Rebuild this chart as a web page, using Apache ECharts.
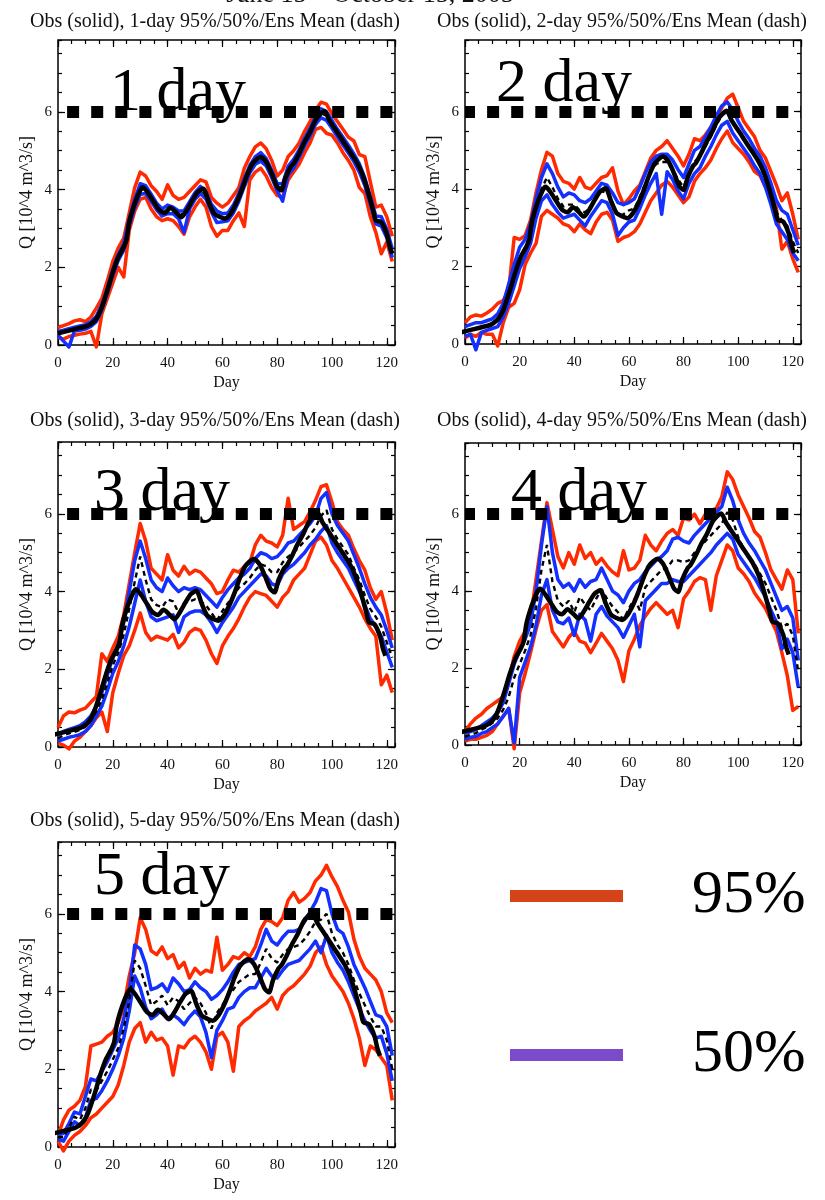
<!DOCTYPE html>
<html>
<head>
<meta charset="utf-8">
<script src="https://cdn.jsdelivr.net/npm/echarts@6/dist/echarts.min.js"></script>
<style>
  html, body { margin: 0; padding: 0; background: #fff; }
  #chart { width: 825px; height: 1200px; }
</style>
</head>
<body>
<div id="chart"></div>
<script>
// ---- Data: discharge Q [10^4 m^3/s], forecast day index ----
const periodTitle = 'June 15 – October 15, 2005';
const leadDays = [1, 2, 3, 4, 5];
const threshold = 6;

// forecast sampling days
const days = [0,2,4,6,8,10,12,14,16,18,20,22,24,26,28,30,32,34,36,38,40,42,44,46,48,50,52,54,56,58,
  60,62,64,66,68,70,72,74,76,78,80,82,84,86,88,90,92,94,96,98,100,102,104,106,108,110,112,114,116,118,120,122];

// observed discharge
const obsDay = [0,4,8,11,13,14,15,16,18,20,22,24,25,26,28,30,31,33,35,37,39,41,43,45,47,49,51,53,55,57,
  59,61,63,65,67,69,71,74,76,78,80,81.5,83,85,86,88,90,92,94,96,97.3,99,101,103,105,107,109,111,113,115,
  116,118,120,121,122];
const obsFlow = [0.30,0.37,0.44,0.50,0.60,0.68,0.80,0.97,1.40,1.87,2.26,2.52,2.70,3.16,3.64,3.98,4.06,3.90,3.68,3.47,
  3.40,3.53,3.42,3.29,3.47,3.72,3.94,4.02,3.68,3.38,3.30,3.25,3.38,3.64,3.98,4.37,4.67,4.84,4.71,4.41,
  4.07,3.98,4.30,4.60,4.67,4.93,5.23,5.48,5.79,5.96,6.02,5.79,5.57,5.36,5.14,4.93,4.71,4.41,3.98,3.47,
  3.21,3.16,2.86,2.56,2.35];
// offset (days) of the observed record on each lead-time panel
const obsLag = [0, 1.5, 2.5, 3.5, 4.5];

// 1-day lead
const hi95_1 = [.45,.50,.55,.62,.65,.60,.72,.95,1.20,1.65, 2.15,2.50,2.75,3.40,4.05,4.45,4.35,4.10,3.95,3.75,
  4.12,3.85,3.75,3.80,3.95,4.10,4.25,4.20,3.80,3.65, 3.55,3.65,3.85,4.05,4.55,4.85,5.10,5.20,5.05,4.75,
  4.35,4.50,4.85,5.00,5.20,5.50,5.75,6.05,6.25,6.20, 5.95,5.75,5.55,5.35,5.25,4.90,4.85,4.20,3.55,3.60, 3.30,2.80];
const lo95_1 = [.20,.15,.22,.25,.28,.30,.35,-.05,.80,1.20, 1.60,2.00,1.75,2.95,3.45,3.75,3.80,3.50,3.30,3.20,
  3.25,3.20,3.05,2.85,3.30,3.55,3.75,3.55,3.05,2.80, 2.95,2.95,3.20,3.40,3.05,4.25,4.45,4.55,4.35,4.05,
  3.85,3.80,4.25,4.45,4.65,4.95,5.20,5.55,5.60,5.45, 5.40,5.20,4.95,4.75,4.50,4.05,3.90,3.30,2.90,2.35, 2.65,2.15];
const hi50_1 = [.35,.38,.42,.46,.49,.52,.60,.74,1.04,1.46, 1.95,2.33,2.60,3.25,3.75,4.15,4.10,3.88,3.65,3.50,
  3.60,3.55,3.45,3.45,3.68,3.92,4.08,3.95,3.62,3.45, 3.38,3.40,3.60,3.90,4.28,4.62,4.85,4.95,4.80,4.50,
  4.15,4.15,4.60,4.78,5.02,5.32,5.58,5.88,6.08,6.00, 5.78,5.55,5.35,5.14,4.92,4.66,4.30,3.82,3.32,3.30, 2.98,2.48];
const lo50_1 = [.25,.10,-.05,.36,.38,.41,.48,.60,.90,1.33, 1.80,2.18,2.44,3.06,3.54,3.88,3.90,3.70,3.48,3.32,
  3.38,3.38,3.25,2.90,3.50,3.75,3.90,3.76,3.42,3.15, 3.17,3.20,3.40,3.70,4.08,4.43,4.65,4.73,4.61,4.31,
  3.97,3.70,4.38,4.55,4.83,5.13,5.38,5.68,5.85,5.78, 5.58,5.36,5.15,4.94,4.72,4.45,4.10,3.62,3.12,3.06, 2.76,2.25];
const mean_1 = [.30,.33,.37,.41,.44,.47,.54,.68,.97,1.40, 1.87,2.26,2.52,3.16,3.64,4.02,4.00,3.79,3.57,3.41,
  3.48,3.47,3.36,3.37,3.60,3.84,4.00,3.86,3.52,3.33, 3.27,3.30,3.50,3.80,4.18,4.53,4.75,4.80,4.71,4.41,
  4.07,4.05,4.50,4.67,4.93,5.23,5.48,5.79,5.96,5.90, 5.68,5.46,5.25,5.04,4.82,4.56,4.20,3.72,3.21,3.16, 2.86,2.35];

// 2-day lead
const hi95_2 = [.55,.70,.75,.72,.80,.90,1.05,1.12,1.40,2.75, 2.70,2.80,3.20,3.90,4.50,4.95,4.85,4.40,4.20,4.15,
  4.00,4.30,4.05,4.00,4.15,4.30,4.35,4.55,3.95,3.60, 3.75,3.95,4.10,4.45,4.80,5.00,5.10,5.25,5.05,4.85,
  4.60,4.90,5.30,5.25,5.40,5.60,5.85,6.10,6.35,6.45, 6.10,5.75,5.55,5.35,5.00,4.80,4.45,4.10,3.70,3.90, 3.35,2.70];
const lo95_2 = [.15,.25,.20,.30,.25,.25,-.05,.55,.95,1.05, 1.40,2.05,2.35,2.60,3.30,3.45,3.35,3.25,3.10,3.05,
  2.90,3.10,2.95,2.85,3.15,3.35,3.40,3.20,2.65,2.75, 2.80,2.90,3.10,3.40,3.70,3.90,4.10,4.20,4.05,3.85,
  3.65,3.80,4.20,4.40,4.55,4.75,5.05,5.30,5.50,5.20, 5.05,4.90,4.70,4.45,4.35,4.05,3.85,3.50,2.45,2.65, 2.20,1.85];
const hi50_2 = [.45,.50,.55,.55,.60,.65,.78,1.05,1.55,2.05, 2.50,2.70,3.10,3.75,4.30,4.65,4.40,4.05,3.80,3.90,
  3.85,3.70,3.65,3.75,3.95,4.15,4.10,3.90,3.65,3.60, 3.65,3.75,4.05,4.40,4.70,4.85,4.90,4.90,4.75,4.50,
  4.30,4.65,5.00,5.10,5.35,5.60,5.90,6.15,6.25,6.05, 5.75,5.50,5.30,5.05,4.85,4.55,4.15,3.70,3.45,3.35, 2.95,2.55];
const lo50_2 = [.20,.25,-.15,.30,.35,.40,.45,.70,1.05,1.50, 1.95,2.25,2.60,3.25,3.70,3.85,3.60,3.40,3.25,3.30,
  3.35,3.20,3.05,3.30,3.50,3.70,3.65,3.35,2.80,3.00, 3.15,3.20,3.50,3.85,4.15,4.40,3.35,4.45,4.25,3.95,
  3.75,4.15,4.40,4.55,4.85,5.10,5.40,5.65,5.75,5.45, 5.25,5.05,4.85,4.60,4.40,4.05,3.60,3.10,2.90,2.70, 2.35,2.15];
const mean_2 = [.32,.37,.40,.43,.47,.52,.62,.88,1.30,1.78, 2.22,2.48,2.85,3.50,4.00,4.30,4.05,3.75,3.55,3.60,
  3.60,3.45,3.40,3.55,3.75,3.95,3.90,3.65,3.30,3.35, 3.45,3.50,3.80,4.15,4.45,4.65,4.70,4.70,4.50,4.25,
  4.05,4.45,4.70,4.85,5.10,5.35,5.65,5.90,6.00,5.75, 5.50,5.28,5.08,4.85,4.62,4.30,3.90,3.40,3.20,3.05, 2.65,2.35];

// 3-day lead
const hi95_3 = [.50,.80,.90,.88,.95,1.00,1.15,1.30,2.40,2.20, 2.55,2.85,3.40,4.20,5.00,5.75,5.30,4.60,4.45,4.30,
  4.95,4.55,4.40,4.65,4.45,4.55,4.50,4.35,4.20,3.95, 4.00,4.30,4.55,4.50,4.65,4.75,5.20,5.45,5.30,5.25,
  5.15,5.45,6.40,5.60,5.70,5.80,6.05,6.35,6.70,6.75, 6.30,5.80,5.60,5.45,5.10,4.80,4.55,4.10,3.80,4.00, 3.45,2.75];
const lo95_3 = [.10,.05,-.05,.15,.25,.40,.55,.75,.90,.40, 1.40,1.90,2.35,2.60,3.00,3.45,2.95,2.75,2.85,2.80,
  2.75,2.90,2.55,2.70,2.95,3.05,3.00,2.75,2.40,2.15, 2.60,2.85,3.05,3.30,3.60,3.85,4.00,3.95,3.90,3.75,
  3.60,3.85,4.00,4.30,4.45,4.60,4.95,5.30,5.40,5.20, 4.80,4.60,4.35,4.10,3.85,3.60,3.30,3.05,2.85,1.60, 1.85,1.40];
const hi50_3 = [.30,.40,.45,.50,.55,.65,.80,1.05,1.40,1.85, 2.30,2.65,3.20,4.00,4.80,5.30,4.85,4.30,4.10,4.00,
  4.35,4.15,4.00,4.10,4.05,4.10,4.05,3.90,3.75,3.60, 3.85,4.05,4.20,4.35,4.45,4.60,4.85,5.00,4.95,4.85,
  4.90,5.05,5.25,5.30,5.45,5.60,5.75,5.95,6.40,6.55, 6.00,5.70,5.50,5.30,4.95,4.60,4.20,3.85,3.60,3.40, 3.00,2.55];
const lo50_3 = [.15,.20,.25,.28,.32,.40,.55,.80,1.05,1.45, 1.90,2.20,2.60,3.10,3.70,4.30,3.75,3.35,3.25,3.30,
  3.35,3.40,2.95,3.35,3.45,3.50,3.50,3.40,3.20,2.95, 3.20,3.40,3.60,3.85,4.00,4.15,4.30,4.45,4.40,4.20,
  4.15,4.45,4.60,4.70,4.85,5.00,5.20,5.35,5.55,5.70, 5.25,5.00,4.80,4.60,4.30,4.00,3.65,3.30,3.10,2.85, 2.45,2.05];
const mean_3 = [.22,.30,.35,.39,.44,.52,.67,.92,1.22,1.65, 2.10,2.42,2.90,3.55,4.25,4.90,4.30,3.80,3.65,3.60,
  3.80,3.75,3.45,3.70,3.75,3.80,3.75,3.65,3.45,3.25, 3.50,3.70,3.90,4.10,4.20,4.35,4.55,4.70,4.65,4.50,
  4.50,4.75,4.90,5.00,5.15,5.30,5.45,5.65,5.95,6.10, 5.60,5.35,5.15,4.95,4.60,4.30,3.90,3.55,3.35,3.10, 2.70,2.30];

// 4-day lead
const hi95_4 = [.35,.55,.70,.80,.95,1.05,1.15,1.25,1.70,2.30, 2.70,2.95,3.30,4.30,5.30,6.30,5.60,4.90,4.60,5.00,
  4.70,5.20,4.85,5.00,4.70,4.85,4.65,4.50,4.40,5.05, 4.55,4.60,4.80,5.45,5.20,5.05,5.30,5.50,5.60,5.45,
  5.90,5.85,6.00,5.75,6.00,6.10,6.15,6.45,7.10,6.90, 6.50,6.20,5.90,5.55,5.40,5.00,4.55,4.30,4.05,4.55, 4.30,2.90];
const lo95_4 = [.10,.15,.15,.20,.25,.35,.55,.75,.95,-.10, 1.35,1.85,2.40,3.00,3.50,3.65,2.95,2.75,2.55,2.80,
  2.95,2.70,2.65,2.40,2.65,2.90,2.70,2.50,2.20,1.65, 2.45,2.75,3.10,3.35,3.55,3.70,3.55,3.40,3.50,3.05,
  3.80,4.00,4.25,4.35,4.30,3.50,4.40,4.80,5.20,5.05, 4.60,4.45,4.25,3.95,3.75,3.55,3.25,2.95,2.40,1.80, 0.90,1.00];
const hi50_4 = [.30,.35,.40,.50,.60,.70,.85,1.10,1.60,2.10, 2.45,2.75,3.15,4.00,5.20,6.20,5.00,4.30,4.10,4.20,
  4.00,4.30,4.10,4.25,4.30,4.60,4.30,4.00,3.90,3.70, 4.00,4.20,4.30,4.50,4.65,4.80,4.90,5.05,5.35,5.40,
  5.30,5.25,5.45,5.60,5.75,5.90,6.05,6.20,6.70,6.35, 5.85,5.50,5.25,5.05,4.80,4.55,4.20,3.85,3.50,3.60, 3.30,2.20];
const lo50_4 = [.15,.20,.22,.30,.35,.45,.55,.75,.95,.05, 1.75,2.15,2.55,3.10,3.90,4.30,3.50,3.20,3.15,3.30,
  2.85,3.40,3.25,2.70,3.40,3.60,3.35,3.20,3.05,2.80, 3.10,3.40,2.55,3.75,3.90,4.05,4.20,4.20,4.30,4.25,
  4.25,4.40,4.55,4.70,4.85,5.00,5.20,5.35,5.50,5.35, 4.95,4.75,4.55,4.35,4.10,3.85,3.50,3.20,2.50,2.75, 2.40,1.50];
const mean_4 = [.22,.27,.31,.40,.47,.57,.70,.92,1.25,1.75, 2.10,2.45,2.85,3.55,4.55,5.20,4.25,3.75,3.60,3.75,
  3.45,3.85,3.65,3.50,3.80,4.05,3.80,3.60,3.45,3.25, 3.55,3.80,3.50,4.10,4.25,4.40,4.55,4.60,4.80,4.80,
  4.75,4.80,5.00,5.15,5.30,5.45,5.60,5.75,6.05,5.85, 5.40,5.10,4.90,4.70,4.45,4.20,3.85,3.50,3.05,3.15, 2.85,1.90];

// 5-day lead
const hi95_5 = [.30,.70,.95,1.05,1.20,1.55,2.60,2.65,2.70,2.85, 2.95,3.20,3.60,4.40,5.00,5.90,5.60,5.05,4.95,5.15,
  4.85,4.95,4.60,4.75,4.35,4.60,4.45,4.55,4.50,5.40, 4.55,4.70,4.90,4.85,5.00,4.90,5.15,5.60,5.85,5.80,
  5.70,5.90,6.35,6.55,6.30,6.40,6.55,6.85,7.00,7.25, 6.95,6.70,6.35,6.05,5.35,4.90,4.60,4.45,4.30,4.00, 3.45,3.20];
const lo95_5 = [.15,-.10,.15,.30,.40,.55,.75,.85,1.00,1.15, 1.30,1.60,2.10,2.70,3.05,3.20,2.70,2.95,2.75,2.80,
  2.60,1.85,2.60,2.55,2.75,2.85,2.70,2.45,2.00,2.85, 2.95,2.70,1.95,3.10,3.25,3.35,3.50,3.60,3.70,3.85,
  3.55,3.90,4.05,4.15,4.30,4.45,4.65,5.00,5.15,4.70, 4.40,4.20,4.00,3.70,3.30,2.80,2.10,2.60,2.50,2.30, 2.10,1.20];
const hi50_5 = [.30,.35,.60,.90,.85,1.30,1.75,1.70,1.95,2.20, 2.50,2.80,3.30,4.00,5.20,5.10,4.70,4.05,4.10,4.20,
  4.00,4.35,4.20,4.00,4.05,4.25,4.10,4.00,3.80,3.90, 4.05,4.25,4.50,4.70,4.75,4.80,4.85,5.20,5.60,5.30,
  5.20,5.40,5.55,5.55,5.60,5.80,6.05,6.30,6.65,6.60, 6.00,5.60,5.50,5.15,4.70,4.40,4.10,3.75,3.40,3.35, 3.10,2.35];
const lo50_5 = [.20,.15,.40,.65,.55,.75,1.20,1.25,1.45,1.70, 2.00,2.35,2.80,3.50,4.40,4.10,3.60,3.30,3.40,3.55,
  3.30,3.40,3.30,3.15,3.35,3.50,3.35,2.95,2.30,3.00, 3.25,3.55,3.60,3.85,4.00,4.10,4.10,4.35,4.60,4.40,
  4.35,4.55,4.70,4.75,4.80,4.95,5.10,5.30,5.00,5.45, 5.00,4.75,4.55,4.25,3.90,3.55,3.25,3.00,2.80,2.85, 2.40,1.70];
const mean_5 = [.25,.25,.50,.78,.70,1.00,1.48,1.45,1.70,1.95, 2.25,2.55,3.05,3.75,4.80,4.60,4.15,3.65,3.75,3.90,
  3.65,3.85,3.75,3.55,3.70,3.85,3.70,3.45,3.05,3.45, 3.65,3.90,4.05,4.25,4.35,4.45,4.45,4.75,5.10,4.85,
  4.75,4.95,5.10,5.15,5.20,5.35,5.55,5.80,5.85,6.00, 5.50,5.20,5.00,4.70,4.30,3.95,3.65,3.35,3.10,3.10, 2.75,2.00];

const bands = [
  { hi95: hi95_1, lo95: lo95_1, hi50: hi50_1, lo50: lo50_1, mean: mean_1 },
  { hi95: hi95_2, lo95: lo95_2, hi50: hi50_2, lo50: lo50_2, mean: mean_2 },
  { hi95: hi95_3, lo95: lo95_3, hi50: hi50_3, lo50: lo50_3, mean: mean_3 },
  { hi95: hi95_4, lo95: lo95_4, hi50: hi50_4, lo50: lo50_4, mean: mean_4 },
  { hi95: hi95_5, lo95: lo95_5, hi50: hi50_5, lo50: lo50_5, mean: mean_5 }
];

// ---- Layout & styling ----
const SERIF = '"Liberation Serif", "Times New Roman", serif';
const RED = '#ff2a00', BLUE = '#1430ff', INK = '#000';
const LEGEND_RED = '#d44418', LEGEND_PURPLE = '#7b4bcc';
const X_MAX = 123, Y_MAX = 7.85;

const boxes = [
  { left: 58,  top: 40,  width: 337, height: 305, subX: 215, subY: 22,  tagX: 110, tagY: 94,  dashOff: 15 },
  { left: 465, top: 40,  width: 336, height: 304, subX: 622, subY: 22,  tagX: 496, tagY: 85,  dashOff: 2 },
  { left: 58,  top: 442, width: 337, height: 305, subX: 215, subY: 421, tagX: 94,  tagY: 494, dashOff: 15 },
  { left: 465, top: 443, width: 336, height: 302, subX: 622, subY: 421, tagX: 511, tagY: 494, dashOff: 2 },
  { left: 58,  top: 842, width: 337, height: 305, subX: 215, subY: 821, tagX: 94,  tagY: 878, dashOff: 15 }
];

const grid = [], xAxis = [], yAxis = [], series = [], graphic = [];

const tickStyle = { color: INK, width: 1.2 };
const labelStyle = { fontFamily: SERIF, fontSize: 15, color: '#111' };

boxes.forEach((b, i) => {
  grid.push({ left: b.left, top: b.top, width: b.width, height: b.height, show: true,
    borderColor: INK, borderWidth: 1.5, backgroundColor: 'transparent', containLabel: false, outerBoundsMode: 'none' });

  const base = { gridIndex: i, type: 'value', splitLine: { show: false },
    axisLine: { show: false, onZero: false } };
  // x: bottom major (labelled), bottom minor, top major, top minor
  xAxis.push(Object.assign({}, base, { min: 0, max: X_MAX, interval: 20, position: 'bottom',
    axisTick: { inside: true, length: 7, lineStyle: tickStyle },
    axisLabel: Object.assign({ showMaxLabel: false, margin: 11 }, labelStyle),
    name: 'Day', nameLocation: 'middle', nameGap: 30, nameMoveOverlap: false,
    nameTextStyle: { fontFamily: SERIF, fontSize: 16, color: '#111' } }));
  xAxis.push(Object.assign({}, base, { min: 0, max: X_MAX, interval: 5, position: 'bottom',
    axisTick: { inside: true, length: 4, lineStyle: tickStyle }, axisLabel: { show: false } }));
  xAxis.push(Object.assign({}, base, { min: 0, max: X_MAX, interval: 20, position: 'top',
    axisTick: { inside: true, length: 7, lineStyle: tickStyle }, axisLabel: { show: false } }));
  xAxis.push(Object.assign({}, base, { min: 0, max: X_MAX, interval: 5, position: 'top',
    axisTick: { inside: true, length: 4, lineStyle: tickStyle }, axisLabel: { show: false } }));
  // y: left major (labelled), left minor, right major, right minor
  yAxis.push(Object.assign({}, base, { min: 0, max: Y_MAX, interval: 2, position: 'left',
    axisTick: { inside: true, length: 7, lineStyle: tickStyle },
    axisLabel: Object.assign({ showMaxLabel: false, margin: 6 }, labelStyle),
    name: 'Q [10^4 m^3/s]', nameLocation: 'middle', nameGap: 22, nameRotate: 90, nameMoveOverlap: false,
    nameTextStyle: { fontFamily: SERIF, fontSize: 18, color: '#111' } }));
  yAxis.push(Object.assign({}, base, { min: 0, max: Y_MAX, interval: 0.5, position: 'left',
    axisTick: { inside: true, length: 4, lineStyle: tickStyle }, axisLabel: { show: false } }));
  yAxis.push(Object.assign({}, base, { min: 0, max: Y_MAX, interval: 2, position: 'right',
    axisTick: { inside: true, length: 7, lineStyle: tickStyle }, axisLabel: { show: false } }));
  yAxis.push(Object.assign({}, base, { min: 0, max: Y_MAX, interval: 0.5, position: 'right',
    axisTick: { inside: true, length: 4, lineStyle: tickStyle }, axisLabel: { show: false } }));

  const ax = i * 4;
  const pts = ys => days.map((d, k) => [d, ys[k]]);
  const line = (name, data, color, width, extra) => Object.assign({
    type: 'line', name, data, xAxisIndex: ax, yAxisIndex: ax,
    showSymbol: false, symbol: 'none', clip: false, silent: true, animation: false,
    itemStyle: { color }, lineStyle: { color, width, join: 'round' }
  }, extra || {});

  const bnd = bands[i];
  series.push(line('95%', pts(bnd.hi95), RED, 3.5));
  series.push(line('95%', pts(bnd.lo95), RED, 3.5));
  series.push(line('50%', pts(bnd.hi50), BLUE, 3.5));
  series.push(line('50%', pts(bnd.lo50), BLUE, 3.5));
  series.push(line('Ens Mean', pts(bnd.mean), INK, 2.4,
    { lineStyle: { color: INK, width: 2.4, type: [5, 4] } }));
  series.push(line('Obs', obsDay.map((d, k) => [d - obsLag[i], obsFlow[k]]), INK, 4.5, {
    clip: true, smooth: 0.25,
    markLine: {
      silent: true, symbol: ['none', 'none'], label: { show: false }, animation: false,
      lineStyle: { color: INK, width: 12, type: [12, 12.1], dashOffset: b.dashOff, cap: 'butt' },
      emphasis: { disabled: true },
      data: [{ yAxis: threshold }]
    }
  }));

  graphic.push({ type: 'text', silent: true, z: 100,
    style: { text: `Obs (solid), ${leadDays[i]}-day 95%/50%/Ens Mean (dash)`, x: b.subX, y: b.subY,
      font: `20px ${SERIF}`, fill: '#111', textAlign: 'center', textVerticalAlign: 'middle' } });
  graphic.push({ type: 'text', silent: true, z: 100,
    style: { text: `${leadDays[i]} day`, x: b.tagX, y: b.tagY,
      font: `62px ${SERIF}`, fill: INK, textAlign: 'left', textVerticalAlign: 'middle' } });
});

graphic.push({ type: 'text', silent: true, z: 100,
  style: { text: periodTitle, x: 370, y: -5, font: `26px ${SERIF}`, fill: '#111',
    textAlign: 'center', textVerticalAlign: 'middle' } });

const chart = echarts.init(document.getElementById('chart'), null, { renderer: 'canvas' });
chart.setOption({
  animation: false,
  backgroundColor: '#fff',
  grid, xAxis, yAxis, series, graphic,
  legend: {
    orient: 'vertical', left: 510, top: 865, padding: 0, selectedMode: false,
    icon: 'rect', itemWidth: 113, itemHeight: 12, itemGap: 97,
    textStyle: { fontFamily: SERIF, fontSize: 62, color: INK, padding: [0, 0, 0, 64] },
    data: [
      { name: '95%', itemStyle: { color: LEGEND_RED } },
      { name: '50%', itemStyle: { color: LEGEND_PURPLE } }
    ]
  }
});
</script>
</body>
</html>
